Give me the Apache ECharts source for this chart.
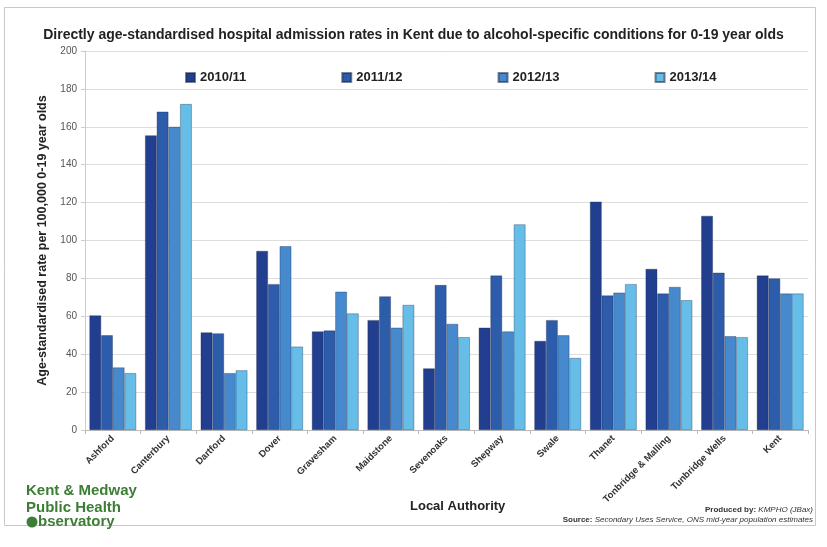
<!DOCTYPE html>
<html>
<head>
<meta charset="utf-8">
<script src="https://cdn.jsdelivr.net/npm/echarts@6/dist/echarts.min.js"></script>
<style>
  html, body { margin: 0; padding: 0; background: #fff; }
  #chart { width: 827px; height: 547px; }
</style>
</head>
<body>
<div id="chart"></div>
<script>
// local authorities on the x axis
const authorities = ['Ashford', 'Canterbury', 'Dartford', 'Dover', 'Gravesham', 'Maidstone',
  'Sevenoaks', 'Shepway', 'Swale', 'Thanet', 'Tonbridge & Malling', 'Tunbridge Wells', 'Kent']

const years = ['2010/11', '2011/12', '2012/13', '2013/14']

// rates per 100,000
const rate2010 = [60.5, 155.5, 51.5, 94.5, 52, 58, 32.5, 54, 47, 120.5, 85, 113, 81.5]
const rate2011 = [50, 168, 51, 77, 52.5, 70.5, 76.5, 81.5, 58, 71, 72, 83, 80]
const rate2012 = [33, 160, 30, 97, 73, 54, 56, 52, 50, 72.5, 75.5, 49.5, 72]
const rate2013 = [30, 172, 31.5, 44, 61.5, 66, 49, 108.5, 38, 77, 68.5, 49, 72]

const yTicks = [0, 20, 40, 60, 80, 100, 120, 140, 160, 180, 200]

const colours = ['#213f8e', '#2c5caa', '#4689cc', '#65bde8']
const font = 'Liberation Sans, Arial, sans-serif'

const chart = echarts.init(document.getElementById('chart'))

const mkSeries = (name, data) => ({
  name,
  type: 'bar',
  data,
  barGap: '0%',
  barCategoryGap: '16%',
  itemStyle: { borderColor: 'rgba(20,35,70,0.55)', borderWidth: 0.6 }
})

chart.setOption({
  animation: false,
  color: colours,
  textStyle: { fontFamily: font },
  title: {
    text: 'Directly age-standardised hospital admission rates in Kent due to alcohol-specific conditions for 0-19 year olds',
    left: 'center',
    top: 23,
    textStyle: { fontSize: 14, fontWeight: 'bold', color: '#222', fontFamily: font }
  },
  legend: {
    data: years,
    top: 66,
    left: 180,
    icon: 'rect',
    itemWidth: 9,
    itemHeight: 9,
    itemGap: 95,
    textStyle: { fontSize: 13, fontWeight: 'bold', color: '#222' }
  },
  grid: { left: 85, right: 19, top: 51, bottom: 117 },
  xAxis: {
    type: 'category',
    data: authorities,
    axisLine: { lineStyle: { color: '#bbb' } },
    axisTick: { show: true, length: 4, lineStyle: { color: '#bbb' } },
    axisLabel: {
      interval: 0, rotate: 45, margin: 7,
      fontSize: 9.5, fontWeight: 'bold', color: '#333'
    }
  },
  yAxis: {
    type: 'value',
    min: yTicks[0],
    max: yTicks[yTicks.length - 1],
    interval: yTicks[1] - yTicks[0],
    name: 'Age-standardised rate per 100,000 0-19 year olds',
    nameLocation: 'middle',
    nameGap: 36,
    nameTextStyle: { fontSize: 12.5, fontWeight: 'bold', color: '#222' },
    axisLine: { show: true, lineStyle: { color: '#ccc' } },
    axisTick: { show: true, length: 4, lineStyle: { color: '#ccc' } },
    axisLabel: { fontSize: 10, color: '#555', margin: 8 },
    splitLine: { lineStyle: { color: '#dedede' } }
  },
  series: [
    mkSeries(years[0], rate2010),
    mkSeries(years[1], rate2011),
    mkSeries(years[2], rate2012),
    mkSeries(years[3], rate2013)
  ],
  graphic: [
    // frame round the chart
    { type: 'rect', z: -1, shape: { x: 4.5, y: 7.5, width: 811, height: 518 },
      style: { fill: 'none', stroke: '#c8c8c8', lineWidth: 1 } },
    { type: 'text', left: 410, top: 500,
      style: { text: 'Local Authority', fontSize: 13, fontWeight: 'bold', fill: '#222', fontFamily: font } },
    // observatory logo
    { type: 'text', left: 26, top: 483,
      style: { text: 'Kent & Medway\nPublic Health', fontSize: 15, fontWeight: 'bold', fill: '#3d7d36',
        lineHeight: 16.5, fontFamily: font } },
    { type: 'circle', shape: { cx: 32, cy: 522, r: 5.5 }, style: { fill: '#3d7d36' } },
    { type: 'text', left: 38, top: 514,
      style: { text: 'bservatory', fontSize: 15, fontWeight: 'bold', fill: '#3d7d36', fontFamily: font } },
    // credits
    { type: 'text', right: 14, top: 506,
      style: { text: '{b|Produced by:} {i|KMPHO (JBax)}', fontSize: 8, fill: '#333', fontFamily: font,
        rich: { b: { fontWeight: 'bold', fontSize: 8 }, i: { fontStyle: 'italic', fontSize: 8 } } } },
    { type: 'text', right: 14, top: 516,
      style: { text: '{b|Source:} {i|Secondary Uses Service, ONS mid-year population estimates}', fontSize: 8,
        fill: '#333', fontFamily: font,
        rich: { b: { fontWeight: 'bold', fontSize: 8 }, i: { fontStyle: 'italic', fontSize: 8 } } } }
  ]
})
</script>
</body>
</html>
